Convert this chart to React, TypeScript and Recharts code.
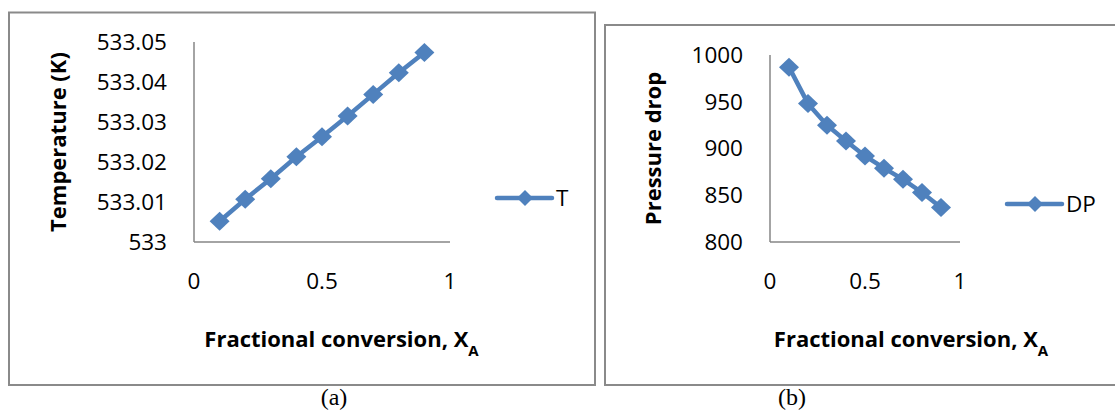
import { LineChart, Line, XAxis, YAxis, Legend, Label } from "recharts";

const BLUE = "#4F81BD";
const AXIS = "#868686";
const FONT = "'Open Sans', sans-serif";

// fractional conversion X_A
const conversion = [0.1, 0.2, 0.3, 0.4, 0.5, 0.6, 0.7, 0.8, 0.9];
// (a) temperature, K
const temperature = [533.0052, 533.0107, 533.0158, 533.0213, 533.0263, 533.0315, 533.0369, 533.0423, 533.0474];
// (b) pressure drop
const pressureDrop = [987, 948, 925, 908, 892, 879, 867, 853, 837];

const xTicks = [0, 0.5, 1];
const tempTicks = [533, 533.01, 533.02, 533.03, 533.04, 533.05];
const dpTicks = [800, 850, 900, 950, 1000];

const tempData = conversion.map((x, i) => ({ x, T: temperature[i] }));
const dpData = conversion.map((x, i) => ({ x, DP: pressureDrop[i] }));

function Diamond(props: any) {
  const { cx, cy, index } = props;
  if (cx == null || cy == null) return <g key={index} />;
  const rx = 10;
  const ry = 9.5;
  return (
    <polygon
      key={index}
      points={`${cx},${cy - ry} ${cx + rx},${cy} ${cx},${cy + ry} ${cx - rx},${cy}`}
      fill={BLUE}
    />
  );
}

function LegendKey({ payload }: any) {
  const item = payload && payload[0];
  if (!item) return null;
  return (
    <svg width={110} height={40} style={{ display: "block" }}>
      <line x1={7} y1={18} x2={62} y2={18} stroke={BLUE} strokeWidth={4.5} strokeLinecap="round" />
      <polygon points="35,10 43,18 35,26 27,18" fill={BLUE} />
      <text x={66} y={26} fontSize={22.5} fontFamily={FONT} fill="#000">
        {item.value}
      </text>
    </svg>
  );
}

interface PanelProps {
  left: number;
  width: number;
  data: any[];
  dataKey: string;
  domain: [number, number];
  ticks: number[];
  yTitle: string;
  yAxisWidth: number;
  margin: { top: number; right: number; bottom: number; left: number };
  yTitleX: number;
  xTitleX: number;
  legendPos: { left: number; top: number };
}

function Panel(p: PanelProps) {
  const fmt = (v: number) => (Number.isInteger(v) ? String(v) : v.toFixed(2));
  return (
    <div style={{ position: "absolute", left: p.left, top: 0 }}>
      <LineChart width={p.width} height={400} data={p.data} margin={p.margin} style={{ fontFamily: FONT }}>
        <XAxis
          dataKey="x"
          type="number"
          domain={[0, 1]}
          ticks={xTicks}
          height={60}
          tickLine={false}
          tickSize={0}
          tickMargin={31}
          axisLine={{ stroke: AXIS, strokeWidth: 1.5 }}
          tick={{ fill: "#000", fontSize: 22.5, fontFamily: FONT }}
        >
          <Label
            content={({ viewBox }: any) => (
              <text
                x={p.xTitleX}
                y={viewBox.y + 105}
                textAnchor="middle"
                fontFamily={FONT}
                fontWeight="bold"
                fontSize={22}
                fill="#000"
              >
                Fractional conversion, X
                <tspan fontSize={15} dy={9}>
                  A
                </tspan>
              </text>
            )}
          />
        </XAxis>
        <YAxis
          type="number"
          domain={p.domain}
          ticks={p.ticks}
          width={p.yAxisWidth}
          tickFormatter={fmt}
          tickLine={false}
          tickSize={0}
          tickMargin={27}
          axisLine={{ stroke: AXIS, strokeWidth: 1.5 }}
          tick={{ fill: "#000", fontSize: 22.5, fontFamily: FONT }}
        >
          <Label
            content={({ viewBox }: any) => {
              const cy = viewBox.y + viewBox.height / 2;
              return (
                <text
                  x={p.yTitleX}
                  y={cy}
                  transform={`rotate(-90, ${p.yTitleX}, ${cy})`}
                  textAnchor="middle"
                  fontFamily={FONT}
                  fontWeight="bold"
                  fontSize={22}
                  fill="#000"
                >
                  {p.yTitle}
                </text>
              );
            }}
          />
        </YAxis>
        <Legend
          layout="horizontal"
          verticalAlign="middle"
          align="center"
          content={<LegendKey />}
          wrapperStyle={{ left: p.legendPos.left, top: p.legendPos.top, width: 110, height: 40 }}
        />
        <Line
          type="linear"
          dataKey={p.dataKey}
          name={p.dataKey}
          stroke={BLUE}
          strokeWidth={4.5}
          dot={Diamond}
          activeDot={false}
          isAnimationActive={false}
        />
      </LineChart>
    </div>
  );
}

export default function App() {
  return (
    <div style={{ position: "absolute", left: 0, top: 0, width: 1115, height: 412, overflow: "hidden", background: "#fff" }}>
      <svg width={1115} height={412} style={{ position: "absolute", left: 0, top: 0 }}>
        <rect x={9} y={12.5} width={586} height={372.5} fill="none" stroke="#8a8a8a" strokeWidth={2} />
        <rect x={605} y={25} width={520} height={360} fill="none" stroke="#8a8a8a" strokeWidth={2} />
        <text x={334} y={405} textAnchor="middle" fontFamily="'Liberation Serif', serif" fontSize={24} fill="#000">
          (a)
        </text>
        <text x={792} y={405} textAnchor="middle" fontFamily="'Liberation Serif', serif" fontSize={24} fill="#000">
          (b)
        </text>
      </svg>
      <Panel
        left={0}
        width={600}
        data={tempData}
        dataKey="T"
        domain={[533, 533.05]}
        ticks={tempTicks}
        yTitle="Temperature (K)"
        yAxisWidth={194}
        margin={{ top: 42, right: 150, bottom: 98, left: 0 }}
        yTitleX={66}
        xTitleX={341.5}
        legendPos={{ left: 490, top: 180 }}
      />
      <Panel
        left={600}
        width={515}
        data={dpData}
        dataKey="DP"
        domain={[800, 1000]}
        ticks={dpTicks}
        yTitle="Pressure drop"
        yAxisWidth={170}
        margin={{ top: 55, right: 155, bottom: 98, left: 0 }}
        yTitleX={61}
        xTitleX={311}
        legendPos={{ left: 400, top: 186 }}
      />
    </div>
  );
}
